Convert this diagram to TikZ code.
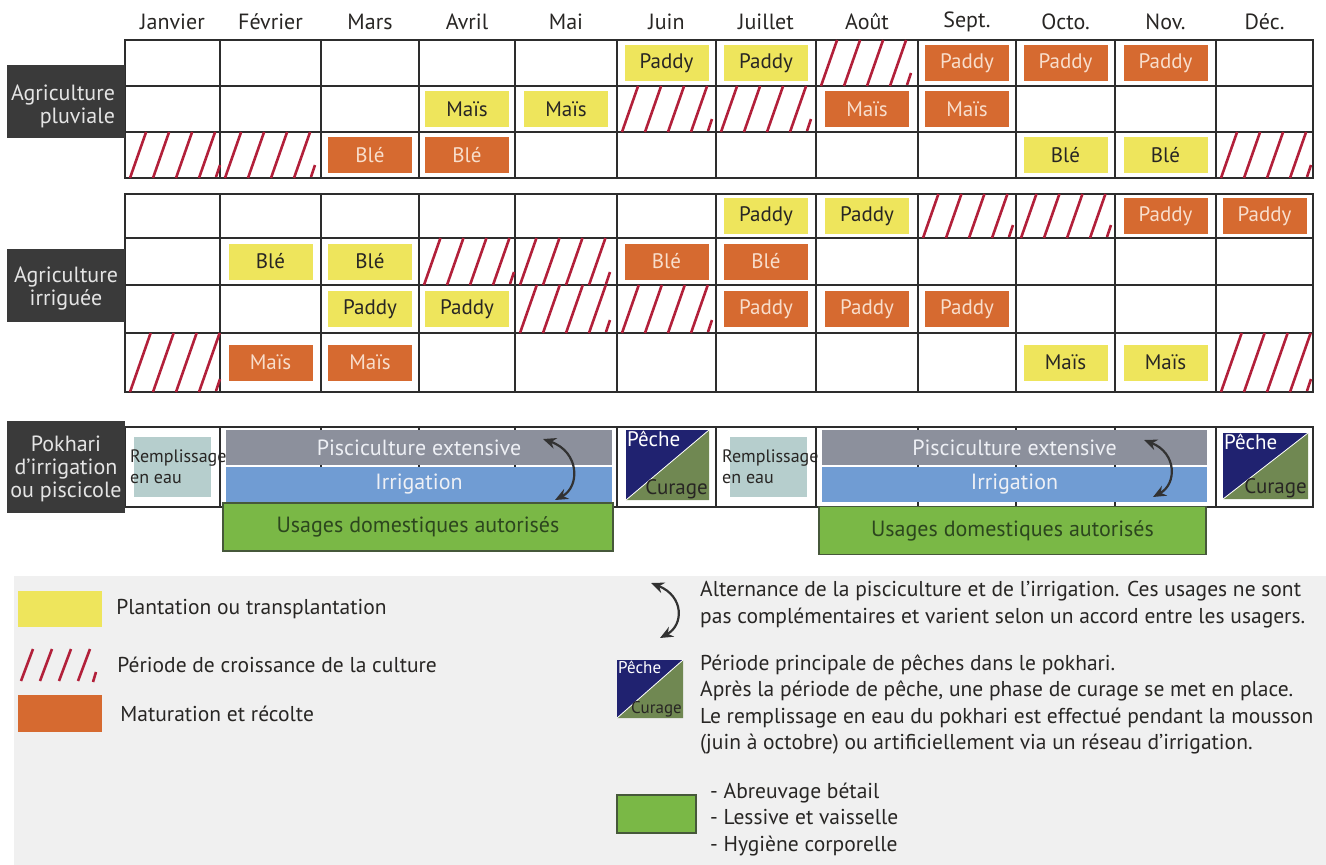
\documentclass[tikz,border=0pt]{standalone}
\usepackage{fontspec}
\setmainfont{PT Sans}
\usetikzlibrary{arrows.meta,positioning}

\definecolor{plantyellow}{RGB}{238,229,92}
\definecolor{harvestorange}{RGB}{214,106,48}
\definecolor{growred}{RGB}{178,32,58}
\definecolor{labelgray}{RGB}{58,58,58}
\definecolor{labeltext}{RGB}{228,228,228}
\definecolor{fishgray}{RGB}{140,144,156}
\definecolor{irriblue}{RGB}{112,156,211}
\definecolor{bandtext}{RGB}{238,240,245}
\definecolor{domgreen}{RGB}{122,184,70}
\definecolor{domedge}{RGB}{70,88,58}
\definecolor{domtext}{RGB}{44,70,30}
\definecolor{filltea}{RGB}{182,206,205}
\definecolor{pechenavy}{RGB}{32,34,112}
\definecolor{curageolive}{RGB}{112,136,82}
\definecolor{legendbg}{RGB}{240,240,240}
\definecolor{gridline}{RGB}{45,45,45}
\definecolor{inktext}{RGB}{40,38,36}
\definecolor{peachtext}{RGB}{248,222,204}
\definecolor{arrowgray}{RGB}{50,50,50}

% growth period hatching: cell left x, top y, bottom y
\newcommand{\growcell}[3]{%
  \foreach \k in {0,...,3}
    \draw[growth] (#1+5+23*\k,#3) -- ++({0.35*(#3-#2)},{#2-#3});
  \draw[growth] (#1+91,#3-1) -- ++(4,-12);}

% fishing / dredging square: left, top, right, bottom, font size, name
\newcommand{\pechesquare}[6]{%
  \fill[pechenavy] (#1,#2) -- (#3,#2) -- (#1,#4) -- cycle;
  \fill[curageolive] (#3,#2) -- (#3,#4) -- (#1,#4) -- cycle;
  \draw[white, line width=0.8pt] (#1,#4) -- (#3,#2);
  \node[anchor=north west, inner sep=1pt, text=white, font=\fontsize{#5}{#5}\selectfont] (#6p) at (#1,#2) {Pêche};
  \node[anchor=south east, inner sep=1pt, text=inktext, font=\fontsize{#5}{#5}\selectfont] (#6c) at (#3,#4) {Curage};}

\begin{document}
\begin{tikzpicture}[x=1pt, y=-1pt,
  tableline/.style={draw=gridline, line width=1.6pt},
  month/.style={text=inktext, font=\fontsize{22}{22}\selectfont},
  plant/.style={fill=plantyellow, text=inktext, minimum width=84pt, minimum height=36pt, inner sep=0pt, font=\fontsize{21}{21}\selectfont},
  harvest/.style={plant, fill=harvestorange, text=peachtext},
  growth/.style={draw=growred, line width=2.6pt},
  rowlabel/.style={fill=labelgray, minimum width=118pt, inner sep=0pt},
  rowtext/.style={text=labeltext, font=\fontsize{22}{23}\selectfont, inner sep=0pt},
  fillbox/.style={fill=filltea, minimum width=77pt, minimum height=60pt, inner sep=0pt},
  filltext/.style={text=inktext, align=left, anchor=west, inner sep=0pt, font=\fontsize{18}{21}\selectfont},
  fishband/.style={fill=fishgray, text=bandtext, minimum height=35pt, inner sep=0pt, font=\fontsize{22}{22}\selectfont},
  irriband/.style={fishband, fill=irriblue},
  domband/.style={fill=domgreen, draw=domedge, line width=1.2pt, text=domtext, minimum height=48pt, inner sep=0pt, font=\fontsize{22}{22}\selectfont},
  altarrow/.style={{Stealth[length=13pt,width=11pt]}-{Stealth[length=13pt,width=11pt]}, draw=arrowgray, line width=2.2pt},
  keytext/.style={text=inktext, align=left, inner sep=0pt, font=\fontsize{21.5}{26.5}\selectfont}]

  \useasboundingbox (0,0) rectangle (1326,865);

  \foreach \m/\x [count=\c] in {Janvier/172.5, Février/270.5, Mars/370, Avril/467, Mai/566, Juin/666.5, Juillet/766, Août/867, Sept./967, Octo./1065.5, Nov./1165.5, Déc./1264.5}
    \node[month] (month\c) at (\x,22) {\m};

  % rain-fed table
  \draw[tableline] (125,40) rectangle (1313,178);
  \foreach \y in {86,132}
    \draw[tableline] (125,\y) -- (1313,\y);
  \foreach \x in {220,321,419,515,617,716,816,918,1016,1115,1216}
    \draw[tableline] (\x,40) -- (\x,178);

  \node[rowlabel, minimum height=73pt] (pluvbox) at (66,101) {};
  \node[rowtext, align=right, anchor=east] (pluvtext) at ([xshift=-10pt,yshift=-5pt]pluvbox.east) {Agriculture\\pluviale};

  \node[plant]   (p1c6)  at (666.5,63)   {Paddy};
  \node[plant]   (p1c7)  at (766,63)     {Paddy};
  \node[harvest] (p1c9)  at (967,63)     {Paddy};
  \node[harvest] (p1c10) at (1065.5,63)  {Paddy};
  \node[harvest] (p1c11) at (1165.5,63)  {Paddy};
  \node[plant]   (p2c4)  at (467,109)    {Maïs};
  \node[plant]   (p2c5)  at (566,109)    {Maïs};
  \node[harvest] (p2c8)  at (867,109)    {Maïs};
  \node[harvest] (p2c9)  at (967,109)    {Maïs};
  \node[harvest] (p3c3)  at (370,155)    {Blé};
  \node[harvest] (p3c4)  at (467,155)    {Blé};
  \node[plant]   (p3c10) at (1065.5,155) {Blé};
  \node[plant]   (p3c11) at (1165.5,155) {Blé};
  \growcell{816}{40}{86}
  \growcell{617}{86}{132}
  \growcell{716}{86}{132}
  \growcell{125}{132}{178}
  \growcell{220}{132}{178}
  \growcell{1216}{132}{178}

  % irrigated table
  \draw[tableline] (125,194) rectangle (1313,392);
  \foreach \y in {238,285,333}
    \draw[tableline] (125,\y) -- (1313,\y);
  \foreach \x in {220,321,419,515,617,716,816,918,1016,1115,1216}
    \draw[tableline] (\x,194) -- (\x,392);

  \node[rowlabel, minimum height=73pt] (irribox) at (66,285.5) {};
  \node[rowtext, align=center] (irritext) at ([yshift=-3pt]irribox.center) {Agriculture\\irriguée};

  \node[plant]   (i1c7)  at (766,216)      {Paddy};
  \node[plant]   (i1c8)  at (867,216)      {Paddy};
  \node[harvest] (i1c11) at (1165.5,216)   {Paddy};
  \node[harvest] (i1c12) at (1264.5,216)   {Paddy};
  \node[plant]   (i2c2)  at (270.5,261.5)  {Blé};
  \node[plant]   (i2c3)  at (370,261.5)    {Blé};
  \node[harvest] (i2c6)  at (666.5,261.5)  {Blé};
  \node[harvest] (i2c7)  at (766,261.5)    {Blé};
  \node[plant]   (i3c3)  at (370,309)      {Paddy};
  \node[plant]   (i3c4)  at (467,309)      {Paddy};
  \node[harvest] (i3c7)  at (766,309)      {Paddy};
  \node[harvest] (i3c8)  at (867,309)      {Paddy};
  \node[harvest] (i3c9)  at (967,309)      {Paddy};
  \node[harvest] (i4c2)  at (270.5,362.5)  {Maïs};
  \node[harvest] (i4c3)  at (370,362.5)    {Maïs};
  \node[plant]   (i4c10) at (1065.5,362.5) {Maïs};
  \node[plant]   (i4c11) at (1165.5,362.5) {Maïs};
  \growcell{918}{194}{238}
  \growcell{1016}{194}{238}
  \growcell{419}{238}{285}
  \growcell{515}{238}{285}
  \growcell{515}{285}{333}
  \growcell{617}{285}{333}
  \growcell{125}{333}{392}
  \growcell{1216}{333}{392}

  % pokhari row
  \draw[tableline] (125,427) rectangle (1313,507);
  \foreach \x in {220,321,419,515,617,716,816,918,1016,1115,1216}
    \draw[tableline] (\x,427) -- (\x,507);

  \node[rowlabel, minimum height=92pt] (pokbox) at (66,467) {};
  \node[rowtext, align=center] (poktext) at ([yshift=-2pt]pokbox.center) {Pokhari\\d’irrigation\\ou piscicole};

  \node[fillbox] (fill1) at (172.5,467) {};
  \node[filltext] (fill1text) at (130,467) {Remplissage\\en eau};
  \node[fishband, minimum width=386pt] (fish1) at (419,447.5) {Pisciculture extensive};
  \node[irriband, minimum width=386pt] (irri1) at (419,484.5) {Irrigation};
  \node[domband, minimum width=390pt] (dom1) at (418,527) {Usages domestiques autorisés};
  \coordinate (alt1a) at (543,439);
  \coordinate (alt1b) at (555,500);
  \draw[altarrow] (alt1a) .. controls ([xshift=37pt,yshift=-13pt]alt1a) and ([xshift=25pt,yshift=13pt]alt1b) .. (alt1b);

  \pechesquare{626}{430}{709}{500}{21}{peche1}

  \node[fillbox] (fill2) at (768,467) {};
  \node[filltext] (fill2text) at (722,467) {Remplissage\\en eau};
  \node[fishband, minimum width=385pt] (fish2) at (1014.5,447.5) {Pisciculture extensive};
  \node[irriband, minimum width=385pt] (irri2) at (1014.5,484.5) {Irrigation};
  \node[domband, minimum width=387pt] (dom2) at (1012.5,530.5) {Usages domestiques autorisés};
  \coordinate (alt2a) at (1144,440);
  \coordinate (alt2b) at (1153,497);
  \draw[altarrow] (alt2a) .. controls ([xshift=33pt,yshift=-13pt]alt2a) and ([xshift=24pt,yshift=13pt]alt2b) .. (alt2b);

  \pechesquare{1223}{433}{1308}{499}{21}{peche2}

  % legend
  \fill[legendbg] (14,576) rectangle (1326,865);

  \node[plant] (keyplant) at (60,609) {};
  \node[keytext, right=14pt of keyplant] (keyplanttext) {Plantation ou transplantation};
  \node[minimum width=82pt, minimum height=36pt, inner sep=0pt] (keygrow) at (59,665) {};
  \foreach \k in {0,...,3}
    \draw[growth] (21+19*\k,681) -- ++(12,-32);
  \draw[growth] (93,682) -- ++(3,-10);
  \node[keytext, right=17pt of keygrow] (keygrowtext) {Période de croissance de la culture};
  \node[harvest, minimum height=37pt] (keyharvest) at (60,713.5) {};
  \node[keytext, right=18pt of keyharvest] (keyharvesttext) {Maturation et récolte};

  \coordinate (keyalta) at (651,583);
  \coordinate (keyaltb) at (660,638);
  \draw[altarrow] (keyalta) .. controls ([xshift=33pt,yshift=-13pt]keyalta) and ([xshift=24pt,yshift=13pt]keyaltb) .. (keyaltb);
  \node[keytext, anchor=west] (keyalttext) at (700,604.5) {Alternance de la pisciculture et de l’irrigation. Ces usages ne sont\\pas complémentaires et varient selon un accord entre les usagers.};

  \pechesquare{617}{660}{683}{718}{17}{keypeche}
  \node[keytext, anchor=west] (keypechetext) at (700,704.5) {Période principale de pêches dans le pokhari.\\Après la période de pêche, une phase de curage se met en place.\\Le remplissage en eau du pokhari est effectué pendant la mousson\\(juin à octobre) ou artificiellement via un réseau d’irrigation.};

  \node[domband, minimum width=79pt, minimum height=38pt] (keydom) at (656.5,814) {};
  \node[keytext, anchor=west] (keydomtext) at (710,819.5) {- Abreuvage bétail\\- Lessive et vaisselle\\- Hygiène corporelle};
\end{tikzpicture}
\end{document}
